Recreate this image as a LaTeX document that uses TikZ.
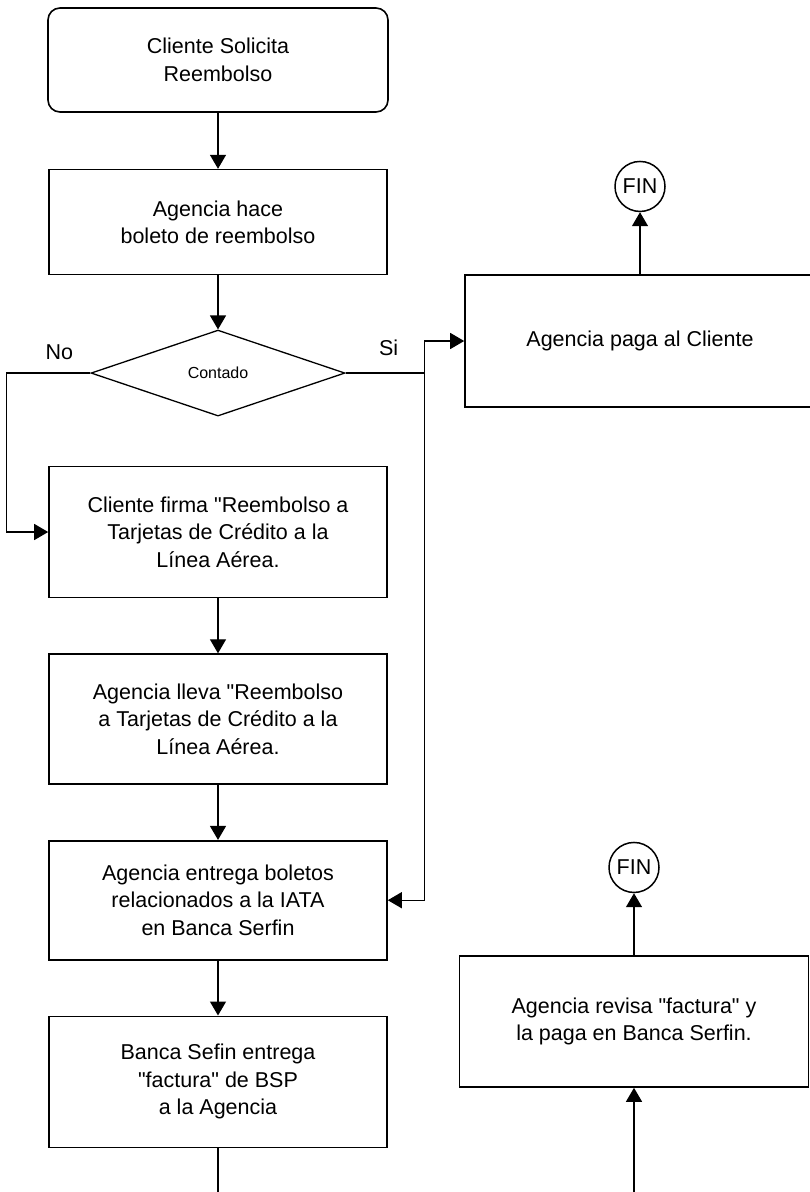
\documentclass[tikz,border=0pt]{standalone}
\usepackage{fontspec}
\setmainfont{Liberation Sans}
\usetikzlibrary{arrows.meta,positioning,shapes.geometric}

\begin{document}
\begin{tikzpicture}[x=1pt,y=1pt,>={Triangle[length=14pt,width=16pt]},every node/.append style={align=center},box/.style={draw,line width=1.6pt,minimum width=338pt,minimum height=130pt,inner sep=0pt,font=\fontsize{21.5}{27.5}\selectfont},startbox/.style={box,rounded corners=12pt,minimum width=340pt,minimum height=104pt},decision/.style={diamond,draw,line width=1.3pt,aspect=2.95,minimum width=254pt,minimum height=86pt,inner sep=0pt,font=\fontsize{16}{19}\selectfont},fin/.style={circle,draw,line width=1.5pt,minimum size=50pt,inner sep=0pt,font=\fontsize{21.5}{24}\selectfont},lbl/.style={font=\fontsize{21.5}{25}\selectfont},conn/.style={line width=1.3pt}]
    \useasboundingbox (0,0) rectangle (810,-1192);

    \node [startbox] (solicita) at (218,-60)                 {Cliente Solicita\\Reembolso};
    \node [box, below=56pt of solicita, minimum height=105pt] (hace) {Agencia hace\\boleto de reembolso};
    \node [decision, below=54pt of hace] (contado)           {Contado};
    \node [box, below=49pt of contado, minimum height=131pt] (firma) {Cliente firma \textquotedbl Reembolso a\\Tarjetas de Crédito a la\\Línea Aérea.};
    \node [box, below=55pt of firma] (lleva)                 {Agencia lleva \textquotedbl Reembolso\\a Tarjetas de Crédito a la\\Línea Aérea.};
    \node [box, below=55pt of lleva, minimum height=119pt] (entrega) {Agencia entrega boletos\\relacionados a la IATA\\en Banca Serfin};
    \node [box, below=55pt of entrega, minimum height=131pt] (factura) {Banca Sefin entrega\\\textquotedbl factura\textquotedbl{} de BSP\\a la Agencia};

    % right column
    \node [box, minimum width=350pt, minimum height=132pt] (paga) at (640,-341) {Agencia paga al Cliente};
    \node [fin, above=62pt of paga] (fin1)                   {FIN};
    \node [box, minimum width=349pt, minimum height=131pt] (revisa) at (634,-1021.5) {Agencia revisa \textquotedbl factura\textquotedbl{} y\\la paga en Banca Serfin.};
    \node [fin, above=62pt of revisa] (fin2)                 {FIN};

    \node [lbl] (no) at ([xshift=-31pt,yshift=21pt] contado.west) {No};
    \node [lbl] (si) at ([xshift=43pt,yshift=25pt] contado.east)  {Si};

    \draw [->,conn] (solicita) -- (hace);
    \draw [->,conn] (hace) -- (contado);
    \draw [->,conn] (firma) -- (lleva);
    \draw [->,conn] (lleva) -- (entrega);
    \draw [->,conn] (entrega) -- (factura);

    % branches of the decision
    \coordinate [left=84pt of contado.west] (nobend);
    \coordinate [right=79pt of contado.east] (sibend);
    \draw [->,conn] (contado.west) -- (nobend) |- (firma.west);
    \draw [conn] (contado.east) -- (sibend);
    \draw [->,conn] (sibend) |- (paga.west);
    \draw [->,conn] (sibend) |- (entrega.east);

    \draw [->,conn] (paga) -- (fin1);
    \draw [->,conn] (revisa) -- (fin2);

    % lines running off the page
    \coordinate (bottom) at (0,-1200);
    \coordinate (factend) at (factura.south |- bottom);
    \coordinate (revend) at (revisa.south |- bottom);
    \draw [conn] (factura) -- (factend);
    \draw [->,conn] (revend) -- (revisa);
\end{tikzpicture}
\end{document}
